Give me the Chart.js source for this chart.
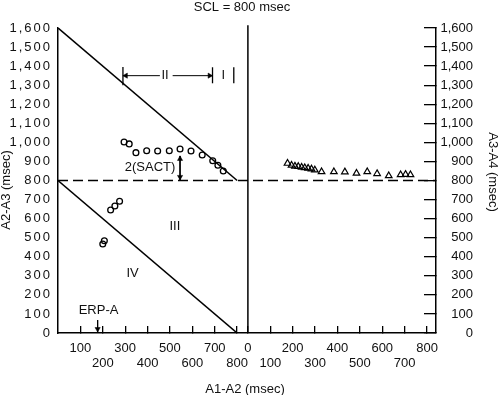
<!DOCTYPE html>
<html><head><meta charset="utf-8">
<script src="https://cdn.jsdelivr.net/npm/chart.js@4/dist/chart.umd.min.js"></script>
<style>html,body{margin:0;padding:0;background:#fff}#wrap{width:500px;height:395px;position:relative}</style>
</head><body><div id="wrap"><canvas id="c" width="500" height="395"></canvas></div>
<script>
// ---------- text ----------
const chartTitle = 'SCL = 800 msec';
const xTitle = 'A1-A2 (msec)';
const yLeftTitle = 'A2-A3 (msec)';
const yRightTitle = 'A3-A4 (msec)';

// ---------- ticks ----------
const yTickValues = [0,100,200,300,400,500,600,700,800,900,1000,1100,1200,1300,1400,1500,1600];
const yTickLabels = ['0','100','200','300','400','500','600','700','800','900','1,000','1,100','1,200','1,300','1,400','1,500','1,600'];
const leftXTickValues = [100,200,300,400,500,600,700,800];
const leftXTickLabels = ['100','200','300','400','500','600','700','800'];
const rightXTickValues = [0,100,200,300,400,500,600,700,800];
const rightXTickLabels = ['0','100','200','300','400','500','600','700','800'];

// ---------- data: left panel (A1-A2 vs A2-A3), open circles ----------
const circlesA1A2 = [295,318,348,396,445,497,545,594,644,691,714,738,235,254,275,200,207];
const circlesA2A3 = [1002,992,946,956,955,956,965,955,934,904,880,850,645,666,691,467,484];

// ---------- data: right panel (A1-A2 vs A3-A4), open triangles ----------
const trianglesA1A2 = [177,195,210,225,240,254,269,284,299,329,384,433,485,533,577,629,682,704,726];
const trianglesA3A4 = [890,880,875,873,869,867,864,860,855,846,846,845,838,846,836,825,830,832,830];

// ---------- reference lines ----------
const sclValue = 800;
const diagonalUpper = [[0,1600],[800,800]];
const diagonalLower = [[0,800],[800,0]];
const zoneBoundaries = [290, 690, 785];
const zoneBracketLevel = 1350;
const sactArrowX = 545, sactArrowTop = 929;
const erpA = 177;

// ---------- annotation texts (data coordinates) ----------
const annotations = [
  {text:'II', x:478, y:1350},
  {text:'I', x:738, y:1350},
  {text:'2(SACT)', x:411, y:868},
  {text:'III', x:522, y:561},
  {text:'IV', x:333, y:315},
  {text:'ERP-A', x:181, y:121}
];

// ---------- layout constants ----------
const RIGHT_OFFSET = 848;   // where the right panel's 0 sits on the shared x scale
const X_MAX = 1688;
const FONT = '"Liberation Sans", Arial, Helvetica, sans-serif';

// x ticks (two staggered rows)
const xTicks = [];
leftXTickValues.forEach((v,i)=>xTicks.push({value:v, label: i%2===0 ? leftXTickLabels[i] : ['', leftXTickLabels[i]]}));
rightXTickValues.forEach((v,i)=>xTicks.push({value:v+RIGHT_OFFSET, label: i%2===0 ? rightXTickLabels[i] : ['', rightXTickLabels[i]]}));

const pts = arr => arr.map(p=>({x:p[0], y:p[1]}));
function seg(points, extra){
  return Object.assign({type:'scatter', showLine:true, data:pts(points), borderColor:'#000', borderWidth:1.5, pointRadius:0, fill:false}, extra||{});
}

const datasets = [
  seg(diagonalUpper, {borderWidth:1.6}),
  seg(diagonalLower, {borderWidth:1.6}),
  seg([[0,sclValue],[X_MAX,sclValue]], {borderDash:[10,5], borderWidth:1.4}),
  seg([[RIGHT_OFFSET,0],[RIGHT_OFFSET,1615]], {clip:false}),
  // zone II / I bracket
  seg([[zoneBoundaries[0],1300],[zoneBoundaries[0],1395]], {borderWidth:1.3}),
  seg([[zoneBoundaries[1],1310],[zoneBoundaries[1],1394]], {borderWidth:1.3}),
  seg([[zoneBoundaries[2],1310],[zoneBoundaries[2],1394]], {borderWidth:1.3}),
  seg([[zoneBoundaries[0],zoneBracketLevel],[455,zoneBracketLevel]], {borderWidth:1}),
  seg([[512,zoneBracketLevel],[zoneBoundaries[1],zoneBracketLevel]], {borderWidth:1}),
  // 2(SACT) arrow
  seg([[sactArrowX,sactArrowTop],[sactArrowX,sclValue+3]], {borderWidth:1}),
  // ERP-A arrow
  seg([[erpA,68],[erpA,5]], {borderWidth:1}),
  // arrowheads
  {type:'scatter', data:pts([[zoneBoundaries[0]+13,zoneBracketLevel],[zoneBoundaries[1]-13,zoneBracketLevel],[sactArrowX,sactArrowTop-16],[sactArrowX,sclValue+19],[erpA,21]]),
   pointStyle:'triangle', pointRadius:3, pointRotation:[-90,90,0,180,180], pointBackgroundColor:'#000', pointBorderColor:'#000', pointBorderWidth:0.5},
  // circles
  {type:'scatter', data:circlesA1A2.map((x,i)=>({x:x, y:circlesA2A3[i]})), pointStyle:'circle', pointRadius:2.9,
   pointBorderWidth:1.3, pointBorderColor:'#000', pointBackgroundColor:'rgba(0,0,0,0)'},
  // triangles
  {type:'scatter', data:trianglesA1A2.map((x,i)=>({x:x+RIGHT_OFFSET, y:trianglesA3A4[i]})), pointStyle:'triangle', pointRadius:3.8,
   pointBorderWidth:1.2, pointBorderColor:'#000', pointBackgroundColor:'rgba(0,0,0,0)'}
];

const textPlugin = {
  id:'texts',
  beforeDraw(chart){ chart.ctx.letterSpacing = '0px'; },
  afterDatasetsDraw(chart){ chart.ctx.letterSpacing = '2px'; },  // only the left-axis labels (z:1) draw after this
  afterDraw(chart){
    const ctx = chart.ctx, xs = chart.scales.x, ys = chart.scales.y;
    ctx.letterSpacing = '0px';
    ctx.save();
    ctx.fillStyle = '#111';
    ctx.font = '13px ' + FONT;
    ctx.textAlign = 'center';
    ctx.textBaseline = 'middle';
    annotations.forEach(a=>ctx.fillText(a.text, xs.getPixelForValue(a.x), ys.getPixelForValue(a.y)));
    ctx.fillText(chartTitle, 242, 7);
    ctx.fillText(xTitle, 245, 389);
    ctx.save(); ctx.translate(6,190); ctx.rotate(-Math.PI/2); ctx.fillText(yLeftTitle,0,0); ctx.restore();
    ctx.save(); ctx.translate(493,172); ctx.rotate(Math.PI/2); ctx.fillText(yRightTitle,0,0); ctx.restore();
    ctx.restore();
  }
};

const yTicksBuild = s => { s.ticks = yTickValues.map(v=>({value:v})); };
const yTickCb = (v,i) => yTickLabels[i];

new Chart(document.getElementById('c'), {
  data:{datasets},
  options:{
    responsive:false, animation:false, devicePixelRatio:1,
    layout:{padding:{top:28, right:27, bottom:0, left:0}},
    plugins:{legend:{display:false}, tooltip:{enabled:false}, title:{display:false}},
    scales:{
      x:{type:'linear', position:'bottom', min:0, max:X_MAX,
        afterBuildTicks: s => { s.ticks = xTicks.map(t=>({value:t.value})); },
        afterFit: s => { s.height = 62; },
        ticks:{autoSkip:false, maxRotation:0, minRotation:0, padding:14.5, color:'#111',
          font:{family:FONT, size:13, lineHeight:1.15}, callback:(v,i)=>xTicks[i].label},
        grid:{drawOnChartArea:false, tickLength:-7, tickColor:'#000', lineWidth:1.3},
        border:{color:'#000', width:1.5}
      },
      y:{type:'linear', position:'left', min:0, max:1600,
        afterBuildTicks: yTicksBuild,
        afterFit: s => { s.width = 58; },
        ticks:{z:1, autoSkip:false, padding:6, color:'#111', font:{family:FONT, size:13}, callback:yTickCb},
        grid:{drawOnChartArea:false, drawTicks:false},
        border:{color:'#000', width:1.5}
      },
      y2:{type:'linear', position:'right', min:0, max:1600,
        afterBuildTicks: yTicksBuild,
        afterFit: s => { s.width = 37; },
        ticks:{autoSkip:false, padding:6, crossAlign:'far', color:'#111', font:{family:FONT, size:13}, callback:yTickCb},
        grid:{drawOnChartArea:false, tickLength:-12, tickColor:'#000', lineWidth:1.3},
        border:{color:'#000', width:1.5}
      }
    }
  },
  plugins:[textPlugin]
});
</script>
</body></html>
